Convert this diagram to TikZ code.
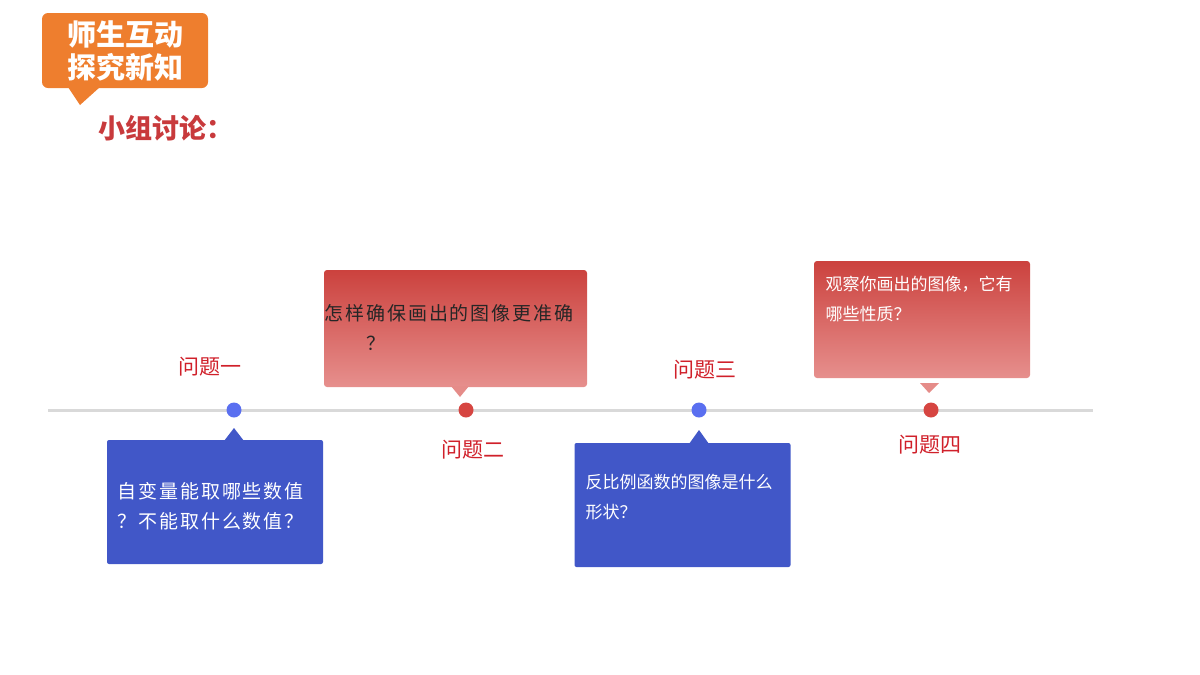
\documentclass[tikz,border=0pt]{standalone}
\usepackage{fontspec}
\setmainfont{Noto Sans CJK SC}
\newfontfamily\cjk{Noto Sans CJK SC}
\newfontfamily\cjkwide[LetterSpace=10]{Noto Sans CJK SC}
\definecolor{qblue}{HTML}{4157C8}
\definecolor{dotblue}{HTML}{5A6FF0}
\definecolor{dotred}{HTML}{D64541}
\definecolor{qlabel}{HTML}{D0202A}
\definecolor{qorange}{HTML}{EE7E2E}
\definecolor{qtitle}{HTML}{C83A3C}
\begin{document}
\begin{tikzpicture}[x=1pt,y=-1pt,
  bluebox/.style = {fill=qblue, rounded corners=2pt, minimum width=216pt, minimum height=124pt, inner sep=0pt},
  redbox/.style = {top color=dotred!95!black, bottom color=dotred!60!white, rounded corners=3pt, inner sep=0pt},
  dot/.style = {circle, inner sep=0pt, minimum size=15pt},
  qlab/.style = {text=qlabel, font=\cjk\fontsize{21}{24}\selectfont},
  qtext/.style = {align=left, font=\cjk\fontsize{17}{30}\selectfont},
  widetext/.style = {align=left, font=\cjkwide\fontsize{19}{30}\selectfont}]
\useasboundingbox (0,0) rectangle (1200,675);
% title
\fill[qorange, rounded corners=6pt] (42,13) rectangle (208,88);
\fill[qorange] (68,87) -- (100,87) -- (80,105) -- cycle;
\node[text=white, font=\cjk\bfseries\fontsize{29}{33}\selectfont, align=center] (title) at (125,51) {师生互动\\探究新知};
\node[text=qtitle, font=\cjk\bfseries\fontsize{27}{30}\selectfont, anchor=west] (group) at (95,128) {小组讨论：};
% timeline
\coordinate (start) at (48,410);
\coordinate (end) at (1093,410);
\draw[line width=3pt, black!15] (start) -- (end);
\node[dot, fill=dotblue] (d1) at (234,410) {};
\node[dot, fill=dotred] (d2) at (466,410) {};
\node[dot, fill=dotblue] (d3) at (699,410) {};
\node[dot, fill=dotred] (d4) at (931,410) {};
\node[qlab] (l1) at (210,367) {问题一};
\node[qlab] (l2) at (473,450) {问题二};
\node[qlab] (l3) at (705,370) {问题三};
\node[qlab] (l4) at (930,445) {问题四};
% boxes
\node[bluebox] (b1) at (215,502) {};
\fill[qblue] (224,441) -- (234,428) -- (244,441) -- cycle;
\node[widetext, text=white, anchor=west] at (114,506) {自变量能取哪些数值\\？不能取什么数值？};
\node[redbox, minimum width=263pt, minimum height=117pt] (b2) at (455.5,328.5) {};
\fill[dotred!62!white] (451,386) -- (469,386) -- (460,397) -- cycle;
\node[widetext, text=black!85, anchor=west] at (321,328) {怎样确保画出的图像更准确\\\hspace{42pt}？};
\node[bluebox] (b3) at (682.5,505) {};
\fill[qblue] (689,444) -- (699,430) -- (709,444) -- cycle;
\node[qtext, text=white, anchor=west] at (582,497) {反比例函数的图像是什么\\形状？};
\node[redbox, minimum width=216pt, minimum height=117pt] (b4) at (922,319.5) {};
\fill[dotred!62!white] (920,383) -- (939,383) -- (929,393) -- cycle;
\node[qtext, text=white, anchor=west] at (822,299) {观察你画出的图像，它有\\哪些性质？};
\end{tikzpicture}
\end{document}
